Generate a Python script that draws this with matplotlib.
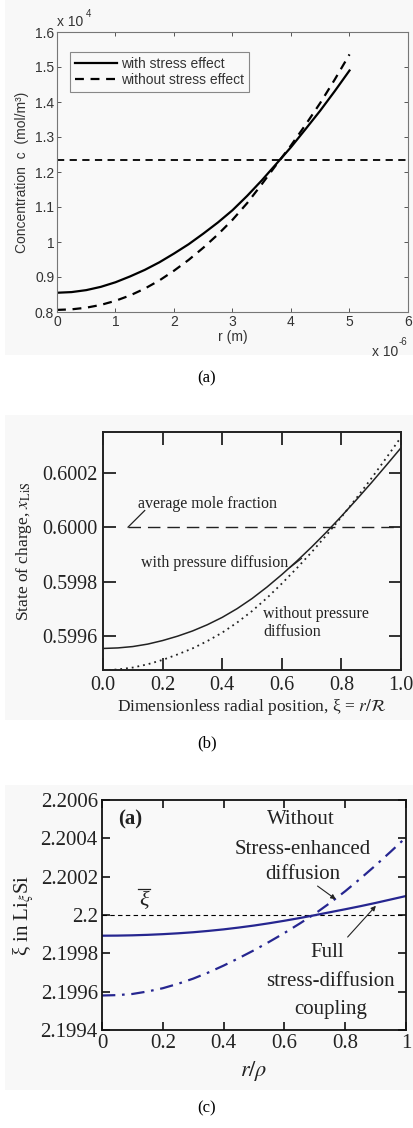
import numpy as np
import matplotlib
matplotlib.use("Agg")
import matplotlib.pyplot as plt
from matplotlib.patches import Rectangle
from matplotlib.ticker import FixedLocator, FuncFormatter

plt.rcParams['mathtext.fontset'] = 'stix'

SANS = 'Liberation Sans'
SERIF = 'Liberation Serif'

# panel (a): concentration profile, r in metres, c in mol/m^3
r_a = np.array([0, 0.25, 0.5, 0.75, 1.0, 1.25, 1.5, 1.75, 2.0, 2.25, 2.5,
                2.75, 3.0, 3.25, 3.5, 3.75, 4.0, 4.25, 4.5, 4.75, 5.0]) * 1e-6
c_with_stress = np.array([8550, 8569, 8625, 8719, 8850, 9017, 9203, 9420, 9670, 9936, 10238,
                          10557, 10908, 11317, 11760, 12234, 12710, 13228, 13754, 14315, 14900])
c_without_stress = np.array([8060, 8076, 8123, 8203, 8320, 8474, 8668, 8902, 9180, 9488, 9835,
                             10215, 10634, 11110, 11650, 12210, 12760, 13352, 13973, 14648, 15360])
c_average = 12330

# panel (b): state of charge vs dimensionless radius
xi_b = np.array([0.0, 0.05, 0.1, 0.15, 0.2, 0.25, 0.3, 0.35, 0.4, 0.45, 0.5,
                 0.55, 0.6, 0.65, 0.7, 0.75, 0.8, 0.85, 0.9, 0.95, 1.0])
soc_with_pd = np.array([0.599555, 0.599557, 0.599562, 0.599571, 0.599584, 0.599600, 0.599619,
                        0.599642, 0.599669, 0.599701, 0.599738, 0.599780, 0.599826, 0.599875,
                        0.599927, 0.599982, 0.600040, 0.600100, 0.600162, 0.600226, 0.600291])
soc_without_pd = np.array([0.599475, 0.599478, 0.599485, 0.599497, 0.599513, 0.599533, 0.599555,
                           0.599582, 0.599613, 0.599650, 0.599692, 0.599740, 0.599793, 0.599849,
                           0.599908, 0.599971, 0.600037, 0.600106, 0.600178, 0.600253, 0.600330])
soc_average = 0.6000

# panel (c): xi in Li_xi Si vs r/rho
r_c = np.array([0.0, 0.05, 0.1, 0.15, 0.2, 0.25, 0.3, 0.35, 0.4, 0.45, 0.5,
                0.55, 0.6, 0.65, 0.7, 0.75, 0.8, 0.85, 0.9, 0.95, 1.0])
xi_full = np.array([2.1998920, 2.1998925, 2.1998940, 2.1998965, 2.1999000, 2.1999045, 2.1999100,
                    2.1999170, 2.1999250, 2.1999345, 2.1999450, 2.1999570, 2.1999700, 2.1999840,
                    2.1999990, 2.2000145, 2.2000300, 2.2000460, 2.2000630, 2.2000810, 2.2000990])
xi_no_stress = np.array([2.199580, 2.199582, 2.199588, 2.199601, 2.199618, 2.199641, 2.199668,
                         2.199700, 2.199736, 2.199775, 2.199816, 2.199860, 2.199906, 2.199955,
                         2.200006, 2.200063, 2.200124, 2.200190, 2.200259, 2.200331, 2.200405])
xi_average = 2.2

W, H = 414, 1128
fig = plt.figure(figsize=(W / 100, H / 100), dpi=100)
fig.patch.set_facecolor('white')


def fbox(x0, y0, x1, y1):
    # pixel box (top-left origin) -> figure fraction rect
    return [x0 / W, 1 - y1 / H, (x1 - x0) / W, (y1 - y0) / H]


# light backgrounds behind each sub-figure
for (x0, y0, x1, y1) in [(5, 0, 414, 355), (5, 415, 414, 720), (5, 785, 414, 1090)]:
    fig.patches.append(Rectangle((x0 / W, 1 - y1 / H), (x1 - x0) / W, (y1 - y0) / H,
                                 transform=fig.transFigure, facecolor='#f8f8f8',
                                 edgecolor='none', zorder=-10))

# ---------------- (a) ----------------
gray = '#333333'
ax = fig.add_axes(fbox(57, 32, 408, 312))
ax.set_facecolor('#f9f9f9')
ax.plot(r_a, c_with_stress, color='black', lw=1.6, ls='-', label='with stress effect')
ax.plot(r_a, c_without_stress, color='black', lw=1.6, ls=(0, (4, 3)), label='without stress effect')
ax.axhline(c_average, color='black', lw=1.3, ls=(0, (4, 3)))
ax.set_xlim(0, 6e-6)
ax.set_ylim(8000, 16000)
ax.xaxis.set_major_locator(FixedLocator(np.arange(0, 7) * 1e-6))
ax.yaxis.set_major_locator(FixedLocator(np.arange(8000, 16001, 1000)))
ax.xaxis.set_major_formatter(FuncFormatter(lambda v, p: f"{v / 1e-6:g}"))
ax.yaxis.set_major_formatter(FuncFormatter(lambda v, p: f"{v / 1e4:g}"))
ax.tick_params(direction='in', top=True, right=True, length=3, width=0.7,
               color='#555555', labelcolor=gray, labelsize=10, pad=2)
for lab in ax.get_xticklabels() + ax.get_yticklabels():
    lab.set_family(SANS)
for s in ax.spines.values():
    s.set_color('#777777')
    s.set_linewidth(0.8)
ax.set_xlabel('r (m)', family=SANS, fontsize=10, color=gray, labelpad=1)
ax.set_ylabel('Concentration  c  (mol/m³)', family=SANS, fontsize=10, color=gray, labelpad=4)
# exponent notes in MATLAB style
ax.text(0.0, 1.012, 'x 10', transform=ax.transAxes, family=SANS, fontsize=10,
        color=gray, ha='left', va='bottom')
ax.text(0.083, 1.045, '4', transform=ax.transAxes, family=SANS, fontsize=7,
        color=gray, ha='left', va='bottom')
ax.text(0.972, -0.143, 'x 10', transform=ax.transAxes, family=SANS, fontsize=10,
        color=gray, ha='right', va='center')
ax.text(0.974, -0.108, '-6', transform=ax.transAxes, family=SANS, fontsize=7,
        color=gray, ha='left', va='center')
leg = ax.legend(loc='upper left', bbox_to_anchor=(0.037, 0.929), prop={'family': SANS, 'size': 10},
                frameon=True, fancybox=False, edgecolor='#888888', facecolor='#f9f9f9',
                framealpha=1, handlelength=3.0, handletextpad=0.3, borderpad=0.35,
                labelspacing=0.15, borderaxespad=0)
leg.get_frame().set_linewidth(0.8)
for t in leg.get_texts():
    t.set_color(gray)
fig.text(207 / W, 1 - 378 / H, '(a)', family=SERIF, fontsize=12, ha='center', va='center')

# ---------------- (b) ----------------
bx = fig.add_axes(fbox(103, 432, 401, 670))
bx.set_facecolor('#f9f9f9')
bx.plot(xi_b, soc_with_pd, color='#222222', lw=1.1, ls='-')
bx.plot(xi_b, soc_without_pd, color='#222222', lw=1.3, ls=(0, (1, 2.2)))
bx.plot([0.084, 1.0], [soc_average, soc_average], color='#222222', lw=1.0, ls=(0, (9, 5)))
bx.set_xlim(0, 1.0)
bx.set_ylim(0.599476, 0.600349)
bx.xaxis.set_major_locator(FixedLocator([0.0, 0.2, 0.4, 0.6, 0.8, 1.0]))
bx.yaxis.set_major_locator(FixedLocator([0.5996, 0.5998, 0.6000, 0.6002]))
bx.xaxis.set_major_formatter(FuncFormatter(lambda v, p: f"{v:.1f}"))
bx.yaxis.set_major_formatter(FuncFormatter(lambda v, p: f"{v:.4f}"))
bx.tick_params(direction='in', top=True, right=True, length=9, width=1.3,
               color='#222222', labelcolor='#222222', labelsize=14.5, pad=4)
for lab in bx.get_xticklabels() + bx.get_yticklabels():
    lab.set_family(SERIF)
for s in bx.spines.values():
    s.set_color('#222222')
    s.set_linewidth(1.4)
bx.set_xlabel(r'Dimensionless radial position, ξ = $r/\mathcal{R}$', family=SERIF,
              fontsize=12.5, color='#222222', labelpad=2)
bx.set_ylabel(r'State of charge, $x_{\mathrm{LiS}}$', family=SERIF, fontsize=12.5,
              color='#222222', labelpad=6)
tk = dict(family=SERIF, fontsize=11.5, color='#222222')
bx.text(0.118, 0.600084, 'average mole fraction', ha='left', va='center', **tk)
bx.plot([0.084, 0.14], [0.6000, 0.600061], color='#222222', lw=0.9)
bx.text(0.129, 0.599870, 'with pressure diffusion', ha='left', va='center', **tk)
bx.plot([0.627, 0.666], [0.599852, 0.599885], color='#222222', lw=0.9)
bx.text(0.537, 0.599683, 'without pressure', ha='left', va='center', **tk)
bx.text(0.537, 0.599616, 'diffusion', ha='left', va='center', **tk)
fig.text(207 / W, 1 - 743 / H, '(b)', family=SERIF, fontsize=12, ha='center', va='center')

# ---------------- (c) ----------------
navy = '#262690'
cx = fig.add_axes(fbox(102, 800, 406, 1030))
cx.set_facecolor('#f9f9f9')
cx.axhline(xi_average, color='black', lw=0.8, ls=(0, (4, 3)))
cx.plot(r_c, xi_full, color=navy, lw=1.6, ls='-')
cx.plot(r_c, xi_no_stress, color=navy, lw=1.6, ls=(0, (6, 3, 1.2, 3)))
cx.set_xlim(0, 1)
cx.set_ylim(2.1994, 2.2006)
cx.xaxis.set_major_locator(FixedLocator([0, 0.2, 0.4, 0.6, 0.8, 1.0]))
cx.yaxis.set_major_locator(FixedLocator([2.1994, 2.1996, 2.1998, 2.2, 2.2002, 2.2004, 2.2006]))
cx.xaxis.set_major_formatter(FuncFormatter(lambda v, p: f"{v:g}"))
cx.yaxis.set_major_formatter(FuncFormatter(lambda v, p: f"{v:.4f}".rstrip('0').rstrip('.')))
cx.tick_params(direction='in', top=True, right=True, length=6, width=1.2,
               color='#111111', labelcolor='#222222', labelsize=15, pad=3)
for lab in cx.get_xticklabels() + cx.get_yticklabels():
    lab.set_family(SERIF)
for s in cx.spines.values():
    s.set_color('#111111')
    s.set_linewidth(1.3)
cx.set_xlabel(r'$r/\rho$', fontsize=16, color='#222222', labelpad=4)
cx.set_ylabel(r'ξ in Li$_{\xi}$Si', family=SERIF, fontsize=15, color='#222222', labelpad=3)
tc = dict(family=SERIF, fontsize=15, color='#222222', ha='center', va='center')
cx.text(0.094, 2.2005, '(a)', fontweight='bold', **tc)
cx.text(0.654, 2.2005, 'Without', **tc)
cx.text(0.66, 2.20034, 'Stress-enhanced', **tc)
cx.text(0.66, 2.200211, 'diffusion', **tc)
# xi-bar marker for the mean value
cx.text(0.137, 2.200070, 'ξ', family=SERIF, style='italic', fontsize=16, color='#222222',
        ha='center', va='center')
cx.plot([0.117, 0.157], [2.200138, 2.200138], color='#222222', lw=0.9)
cx.text(0.742, 2.199806, 'Full', **tc)
cx.text(0.753, 2.199652, 'stress-diffusion', **tc)
cx.text(0.753, 2.199506, 'coupling', **tc)
arrow = dict(arrowstyle='-|>', color='#222222', lw=0.8, mutation_scale=7, shrinkA=0, shrinkB=0)
cx.annotate('', xy=(0.769, 2.200082), xytext=(0.709, 2.200151), arrowprops=arrow)
cx.annotate('', xy=(0.901, 2.200048), xytext=(0.808, 2.199885), arrowprops=arrow)
fig.text(207 / W, 1 - 1108 / H, '(c)', family=SERIF, fontsize=12, ha='center', va='center')

fig.savefig('out.png', dpi=100)
